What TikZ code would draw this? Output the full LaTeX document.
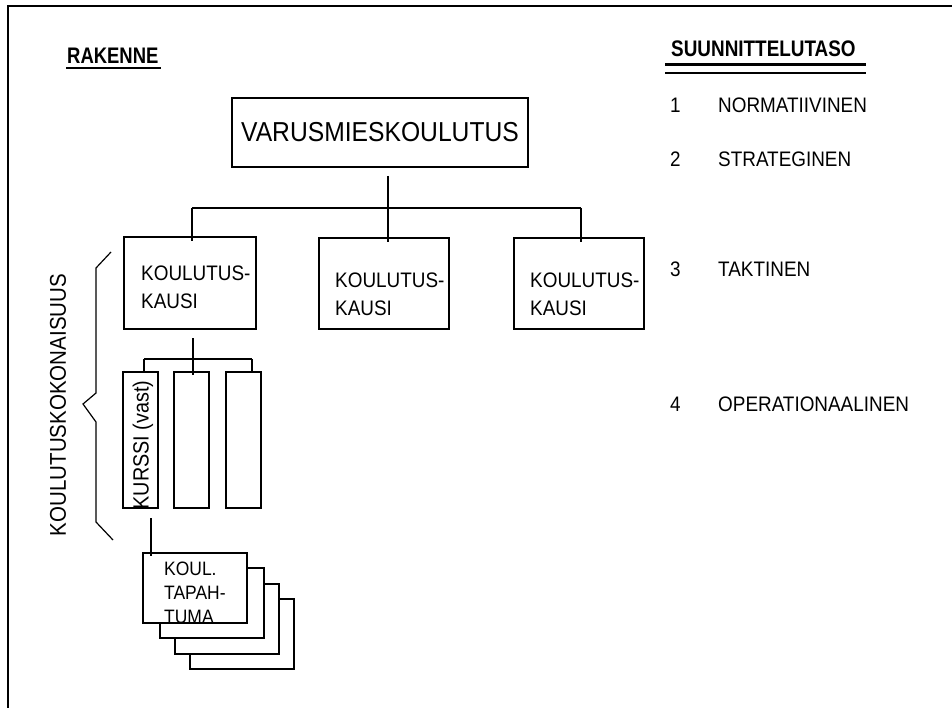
\documentclass[tikz,border=0pt]{standalone}
\usepackage{fontspec}
\usepackage{graphicx}
\setmainfont{Liberation Sans}[FakeStretch=0.9]
\newfontfamily\hdfont{Liberation Sans}
\tikzset{
  box/.style={draw, line width=2.4pt, fill=white, inner sep=0pt},
  conn/.style={line width=1.2pt},
  lbl/.style={inner sep=0pt, anchor=west, font=\fontsize{21}{25}\selectfont},
  head/.style={inner sep=0pt, anchor=west, font=\hdfont\fontsize{22.5}{26}\selectfont\bfseries},
  kk/.style={inner sep=0pt, anchor=west, align=left, font=\fontsize{21}{28}\selectfont},
}
\begin{document}
\begin{tikzpicture}[x=1pt, y=-1pt]
\useasboundingbox (0,0) rectangle (952,708);

% outer frame (top and left edges)
\draw[line width=2.5pt] (8,708) -- (8,6) -- (952,6);

% headings
\node[head] (rak) at (67,55.5) {\scalebox{0.82}[1]{RAKENNE}};
\draw[line width=2.5pt] (66,68) -- (161,68);
\node[head] (suun) at (671,49) {\scalebox{0.84}[1]{SUUNNITTELUTASO}};
\draw[line width=3pt] (665,65) -- (866,65);
\draw[line width=2pt] (665,73) -- (866,73);

% planning levels
\node[lbl] (n1) at (670,105) {1};
\node[lbl] (l1) at (718,105) {NORMATIIVINEN};
\node[lbl] (n2) at (670,159) {2};
\node[lbl] (l2) at (718,159) {STRATEGINEN};
\node[lbl] (n3) at (670,269) {3};
\node[lbl] (l3) at (718,269) {TAKTINEN};
\node[lbl] (n4) at (670,404) {4};
\node[lbl] (l4) at (718,404) {OPERATIONAALINEN};

% top box
\node[box, minimum width=296pt, minimum height=69pt,
      font=\fontsize{27.4}{30}\selectfont] (top) at (380,132.5) {VARUSMIESKOULUTUS};

% training period boxes
\node[box, minimum width=132pt, minimum height=92pt] (kk1) at (190,283) {};
\node[box, minimum width=130pt, minimum height=91pt] (kk2) at (384,283.5) {};
\node[box, minimum width=130pt, minimum height=91pt] (kk3) at (579,283.5) {};
\node[kk] (t1) at (141,287.5) {KOULUTUS-\\KAUSI};
\node[kk] (t2) at (335,294) {KOULUTUS-\\KAUSI};
\node[kk] (t3) at (530,294) {KOULUTUS-\\KAUSI};

% tree connectors from the top box
\coordinate (a0) at (388,176);
\coordinate (a1) at (388,208);
\coordinate (aL) at (192,208);
\coordinate (aR) at (581,208);
\draw[conn] (a0) -- (a1);
\draw[conn] (aL) -- (aR);
\draw[conn] (aL) -- (192,241);
\draw[conn] (a1) -- (388,242);
\draw[conn] (aR) -- (581,242);

% course boxes
\node[box, minimum width=35pt, minimum height=136pt] (c1) at (140.5,440) {};
\node[box, minimum width=35pt, minimum height=136pt] (c2) at (191.5,440) {};
\node[box, minimum width=35pt, minimum height=136pt] (c3) at (243.5,440) {};
\node[inner sep=0pt, rotate=90, font=\fontsize{22}{26}\selectfont] (kurssi) at (143,445) {KURSSI (vast)};

% connectors to the course boxes
\coordinate (b0) at (193,338);
\coordinate (b1) at (193,359);
\coordinate (bL) at (144,359);
\coordinate (bR) at (252,359);
\draw[conn] (b0) -- (193,375);
\draw[conn] (bL) -- (bR);
\draw[conn] (bL) -- (144,373);
\draw[conn] (bR) -- (252,373);

% brace and its label
\draw[conn] (111,252) -- (96,268) -- (96,393) -- (83,404) -- (96,422) -- (96,522) -- (113,540);
\node[inner sep=0pt, rotate=90, font=\fontsize{22.8}{26}\selectfont] (kok) at (58,405) {KOULUTUSKOKONAISUUS};

% stack of training events
\node[box, minimum width=104pt, minimum height=70pt, anchor=north west] (e4) at (189,598) {};
\node[box, minimum width=104pt, minimum height=70pt, anchor=north west] (e3) at (174,583) {};
\node[box, minimum width=104pt, minimum height=70pt, anchor=north west] (e2) at (159,567) {};
\node[box, minimum width=104pt, minimum height=70pt, anchor=north west] (e1) at (142,552) {};
\node[kk, font=\fontsize{19.4}{24}\selectfont] (ev) at (164,593) {KOUL.\\TAPAH-\\TUMA};

\coordinate (d0) at (151,518);
\draw[conn] (d0) -- (151,556);
\end{tikzpicture}
\end{document}
